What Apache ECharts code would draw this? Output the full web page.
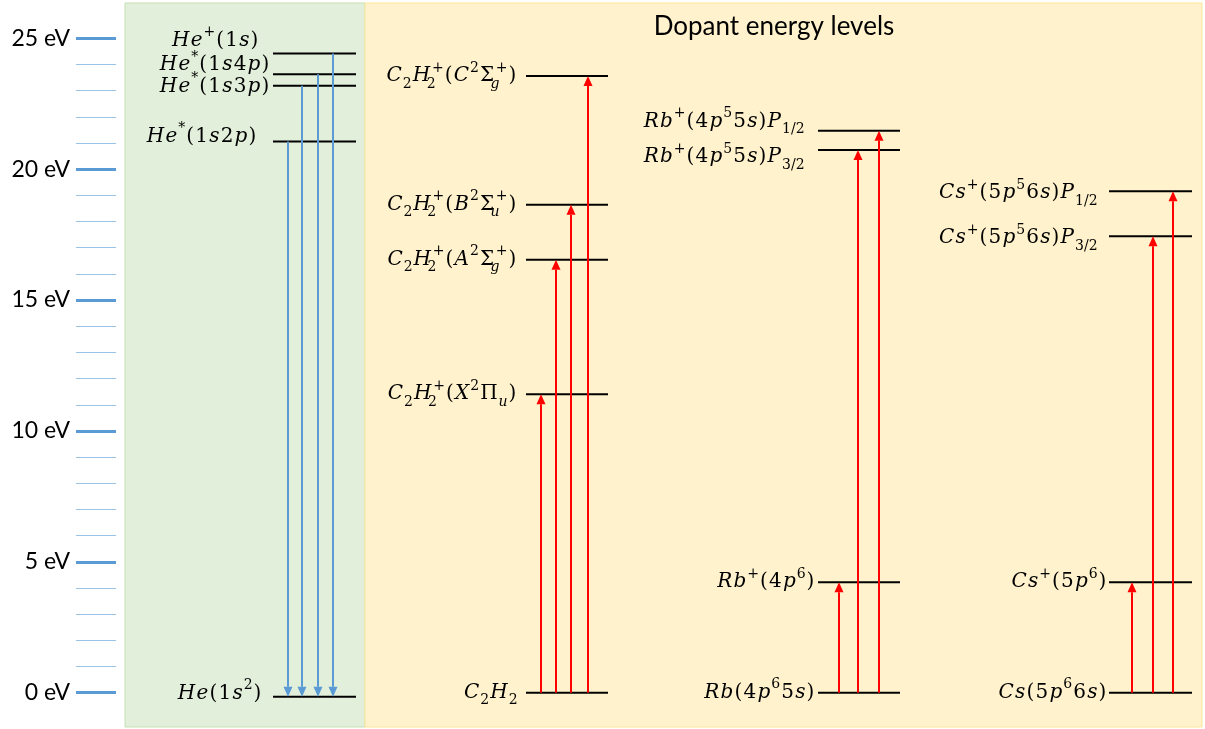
<!DOCTYPE html>
<html>
<head>
<meta charset="utf-8">
<script src="https://cdn.jsdelivr.net/npm/echarts@6/dist/echarts.min.js"></script>
<style>
  html, body { margin: 0; padding: 0; background: #ffffff; }
  #chart { width: 1205px; height: 729px; }
</style>
</head>
<body>
<div id="chart"></div>
<script>
// ---- Energy axis (eV) ----
const axisMin = 0;
const axisMax = 25;
const axisStep = 5;
const axisUnit = 'eV';

// ---- Helium levels (eV), labels, and de-excitation arrows (level index from -> to) ----
const heLevels = [24.42, 23.63, 23.19, 21.06, -0.15];
const heNames  = ['He^+(1s)', 'He^*(1s4p)', 'He^*(1s3p)', 'He^*(1s2p)', 'He(1s^2)'];
const heFrom   = [3, 2, 1, 0];
const heTo     = [4, 4, 4, 4];

// ---- Acetylene levels ----
const c2h2Levels = [23.56, 18.64, 16.54, 11.40, 0];
const c2h2Names  = ['C_2H_2^+(C^2Σ_g^+)', 'C_2H_2^+(B^2Σ_u^+)', 'C_2H_2^+(A^2Σ_g^+)', 'C_2H_2^+(X^2Π_u)', 'C_2H_2'];
const c2h2From   = [4, 4, 4, 4];
const c2h2To     = [3, 2, 1, 0];

// ---- Rubidium levels ----
const rbLevels = [21.47, 20.73, 4.22, 0];
const rbNames  = ['Rb^+(4p^55s)P_{1/2}', 'Rb^+(4p^55s)P_{3/2}', 'Rb^+(4p^6)', 'Rb(4p^65s)'];
const rbFrom   = [3, 3, 3];
const rbTo     = [2, 1, 0];

// ---- Caesium levels ----
const csLevels = [19.16, 17.44, 4.22, 0];
const csNames  = ['Cs^+(5p^56s)P_{1/2}', 'Cs^+(5p^56s)P_{3/2}', 'Cs^+(5p^6)', 'Cs(5p^66s)'];
const csFrom   = [3, 3, 3];
const csTo     = [2, 1, 0];

const panelTitle = 'Dopant energy levels';

// ---- Layout of each column (horizontal placement, label nudges in px) ----
const columns = [
  { levels: heLevels, names: heNames, from: heFrom, to: heTo, color: '#5b9bd5',
    x0: 273, x1: 356, arrowX: [288, 302, 318, 333],
    gap: [14, 3, 3, 16, 11], dy: [-13, -9, 1, -5, -3] },
  { levels: c2h2Levels, names: c2h2Names, from: c2h2From, to: c2h2To, color: '#ff0000',
    x0: 526, x1: 608, arrowX: [541, 556, 571, 588],
    gap: [9, 9, 9, 9, 8], dy: [0, 0, 0, 0, 0] },
  { levels: rbLevels, names: rbNames, from: rbFrom, to: rbTo, color: '#ff0000',
    x0: 818, x1: 900, arrowX: [839, 858, 879],
    gap: [13, 13, 3, 3], dy: [-9, 7, 0, 0] },
  { levels: csLevels, names: csNames, from: csFrom, to: csTo, color: '#ff0000',
    x0: 1109, x1: 1192, arrowX: [1132, 1153, 1173],
    gap: [11, 11, 2, 2], dy: [2, 2, 0, 0] }
];

// ---- Math-style rich text for level names ----
const MATH_FONT = '"DejaVu Serif", serif';
const MAIN_SIZE = 20;
const SCRIPT_SIZE = 14;
const INK = '#1c1c1c';
const TRACK = 0.6; // extra spacing on each side of a main-line glyph

function makeRich() {
  const base = { fontFamily: MATH_FONT, color: INK };
  const rich = {
    i:  Object.assign({}, base, { fontSize: MAIN_SIZE, fontStyle: 'italic', lineHeight: 30, padding: [0, TRACK, 0, TRACK] }),
    r:  Object.assign({}, base, { fontSize: MAIN_SIZE, fontStyle: 'normal', lineHeight: 30, padding: [0, TRACK, 0, TRACK] })
  };
  const sup = { fontSize: SCRIPT_SIZE, lineHeight: 15, verticalAlign: 'top', padding: [0, 0.4, 0, 0.4] };
  const sub = { fontSize: SCRIPT_SIZE, lineHeight: 15, verticalAlign: 'bottom', padding: [0, 0.4, 0, 0.4] };
  [['s', sup], ['b', sub]].forEach(([k, st]) => {
    [['i', 'italic'], ['r', 'normal']].forEach(([f, fs]) => {
      rich[k + f] = Object.assign({}, base, st, { fontStyle: fs });
      rich[k + f + 'z'] = Object.assign({}, base, st, { fontStyle: fs, width: 0, align: 'left' });
    });
  });
  return rich;
}
const RICH = makeRich();

function runs(str) {
  // split into italic Latin-letter runs and upright runs
  const out = [];
  for (const ch of str) {
    const it = /[A-Za-z]/.test(ch);
    if (out.length && out[out.length - 1].it === it) out[out.length - 1].t += ch;
    else out.push({ it, t: ch });
  }
  return out;
}

function toRich(src) {
  const tokens = [];
  let i = 0;
  let lastScript = null;
  while (i < src.length) {
    const c = src[i];
    if (c === '^' || c === '_') {
      const kind = c === '^' ? 's' : 'b';
      let grp;
      if (src[i + 1] === '{') {
        const end = src.indexOf('}', i + 2);
        grp = src.slice(i + 2, end);
        i = end + 1;
      } else {
        grp = src[i + 1];
        i += 2;
      }
      const rs = runs(grp);
      // stack a superscript over a subscript that directly follows it (and vice versa)
      if (lastScript && lastScript.kind !== kind && lastScript.single) {
        tokens[lastScript.idx].style += 'z';
      }
      const startIdx = tokens.length;
      rs.forEach(r => tokens.push({ style: kind + (r.it ? 'i' : 'r'), t: r.t }));
      lastScript = { kind, idx: startIdx, single: rs.length === 1 };
    } else {
      // main-line glyphs are emitted one by one so each gets a little tracking
      for (const ch of src[i]) tokens.push({ style: /[A-Za-z]/.test(ch) ? 'i' : 'r', t: ch });
      i += 1;
      lastScript = null;
    }
  }
  return tokens.map(tk => '{' + tk.style + '|' + tk.t + '}').join('');
}

// ---- Series ----
const series = [];
columns.forEach(col => {
  // horizontal level bars with their names
  series.push({
    type: 'custom',
    coordinateSystem: 'cartesian2d',
    data: col.levels.map((e, i) => [e, i]),
    encode: { y: 0 },
    silent: true,
    z: 3,
    renderItem(params, api) {
      const e = api.value(0);
      const idx = api.value(1);
      const a = api.coord([col.x0, e]);
      const b = api.coord([col.x1, e]);
      return {
        type: 'group',
        children: [
          { type: 'line', shape: { x1: a[0], y1: a[1], x2: b[0], y2: b[1] },
            style: { stroke: '#000000', lineWidth: 2 } },
          { type: 'text', x: a[0] - col.gap[idx], y: a[1] + col.dy[idx],
            style: { text: toRich(col.names[idx]), rich: RICH, align: 'right', verticalAlign: 'middle' } }
        ]
      };
    }
  });
  // transition arrows between levels
  series.push({
    type: 'custom',
    coordinateSystem: 'cartesian2d',
    data: col.from.map((f, k) => [col.levels[f], col.levels[col.to[k]], k]),
    encode: { y: [0, 1] },
    silent: true,
    z: 4,
    renderItem(params, api) {
      const k = api.value(2);
      const x = col.arrowX[k];
      const p0 = api.coord([x, api.value(0)]);
      const p1 = api.coord([x, api.value(1)]);
      const dir = p1[1] > p0[1] ? 1 : -1;
      const headLen = 10, headHalf = 4.5;
      const baseY = p1[1] - dir * headLen;
      return {
        type: 'group',
        children: [
          { type: 'line', shape: { x1: p0[0], y1: p0[1], x2: p0[0], y2: baseY },
            style: { stroke: col.color, lineWidth: 2 } },
          { type: 'polygon', shape: { points: [[p1[0], p1[1]], [p1[0] - headHalf, baseY], [p1[0] + headHalf, baseY]] },
            style: { fill: col.color } }
        ]
      };
    }
  });
});

const chart = echarts.init(document.getElementById('chart'), null, { renderer: 'canvas' });
chart.setOption({
  animation: false,
  backgroundColor: '#ffffff',
  grid: { left: 116, right: 0, top: 38.3, bottom: 36.3, containLabel: false },
  xAxis: { type: 'value', min: 116, max: 1205, show: false },
  yAxis: {
    type: 'value', min: axisMin, max: axisMax, interval: axisStep,
    axisLine: { show: false },
    splitLine: { show: false },
    axisTick: { show: true, length: 40, lineStyle: { color: '#5b9bd5', width: 3 } },
    minorTick: { show: true, splitNumber: 5, length: 40, lineStyle: { color: '#9dc3e6', width: 1.2 } },
    axisLabel: {
      margin: 46, color: '#000000', fontFamily: 'Lato, sans-serif', fontSize: 23,
      formatter: v => v + ' ' + axisUnit
    }
  },
  graphic: [
    { type: 'rect', z: -10, silent: true, shape: { x: 125, y: 3, width: 240, height: 724 },
      style: { fill: '#e2efda', stroke: '#c5e0b4', lineWidth: 1 } },
    { type: 'rect', z: -10, silent: true, shape: { x: 365, y: 3, width: 837, height: 724 },
      style: { fill: '#fff2cc', stroke: '#ffe699', lineWidth: 1 } },
    { type: 'text', z: 5, silent: true, x: 774, y: 27,
      style: { text: panelTitle, fill: '#000000', font: '26px Lato, sans-serif', align: 'center', verticalAlign: 'middle' } }
  ],
  series
});
</script>
</body>
</html>
